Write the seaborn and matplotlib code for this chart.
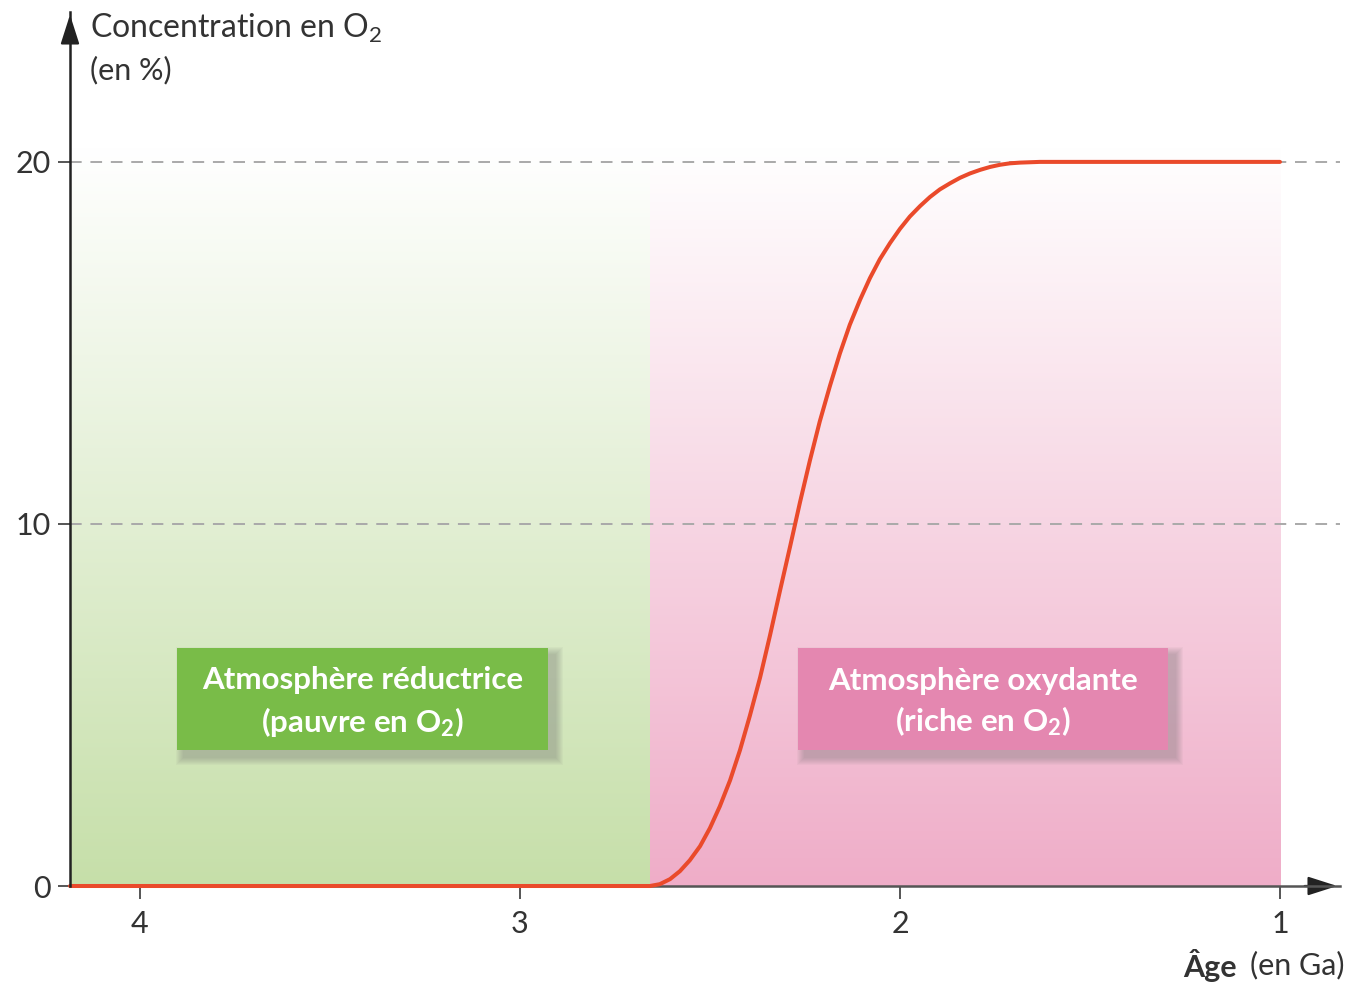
import numpy as np
import pandas as pd
import matplotlib
matplotlib.use("Agg")
import matplotlib.pyplot as plt
import seaborn as sns
from matplotlib.colors import LinearSegmentedColormap
from matplotlib.patches import Rectangle

# O2 concentration in the atmosphere through time (age in Ga, O2 in %)
age_ga = [4.184, 2.658, 2.632, 2.605, 2.579, 2.553, 2.526, 2.500, 2.474, 2.447,
          2.421, 2.395, 2.368, 2.342, 2.316, 2.289, 2.263, 2.237, 2.211, 2.184,
          2.158, 2.132, 2.105, 2.079, 2.053, 2.026, 2.000, 1.974, 1.947, 1.921,
          1.895, 1.868, 1.842, 1.816, 1.789, 1.763, 1.737, 1.711, 1.684, 1.658,
          1.632, 1.000]
o2_percent = [0, 0, 0.05, 0.19, 0.41, 0.71, 1.10, 1.60, 2.20, 2.92,
              3.75, 4.70, 5.76, 6.92, 8.14, 9.38, 10.60, 11.75, 12.83, 13.82,
              14.71, 15.50, 16.19, 16.79, 17.31, 17.76, 18.15, 18.49, 18.78, 19.03,
              19.24, 19.41, 19.56, 19.68, 19.78, 19.86, 19.92, 19.96, 19.98, 19.99,
              20.0, 20.0]

# atmosphere periods: (start, end) in Ga
period_names = ["Atmosphère réductrice\n(pauvre en O$_\\mathbf{2}$)",
                "Atmosphère oxydante\n(riche en O$_\\mathbf{2}$)"]
period_start = [4.184, 2.658]
period_end = [2.658, 1.0]

x_ticks = [4, 3, 2, 1]
y_ticks = [0, 10, 20]

sns.set_theme(style="white")
plt.rcParams["font.family"] = ["Lato", "DejaVu Sans"]
plt.rcParams["mathtext.fontset"] = "custom"
plt.rcParams["mathtext.rm"] = "Lato"
plt.rcParams["mathtext.it"] = "Lato:italic"
plt.rcParams["mathtext.bf"] = "Lato:bold"

W, H = 1350, 991
fig = plt.figure(figsize=(W / 100, H / 100), dpi=100)
fig.patch.set_facecolor("white")
ax = fig.add_axes([70 / W, 105 / H, 1270 / W, 874 / H])
ax.set_facecolor("white")

# gradient backgrounds for the two periods
band_colors = ["#c6dfa9", "#efadc8"]
grad = np.linspace(1, 0, 256).reshape(-1, 1)
for x0, x1, col in zip(period_start, period_end, band_colors):
    cmap = LinearSegmentedColormap.from_list("band", ["#ffffff", col])
    ax.imshow(grad, extent=[x0, x1, 0, 20.4], origin="lower", cmap=cmap,
              vmin=0, vmax=1, aspect="auto", zorder=0, interpolation="bilinear")

# dashed reference lines
for yv in [10, 20]:
    ax.axhline(yv, color="#a9a9a9", lw=1.4, ls=(0, (6, 4.5)), zorder=1)

df = pd.DataFrame({"age": age_ga, "o2": o2_percent})
sns.lineplot(data=df, x="age", y="o2", color="#ea4a2b", lw=2.9, ax=ax,
             zorder=5, clip_on=False, sort=False)

ax.set_xlim(4.184, 0.842)
ax.set_ylim(0, 24.14)
ax.set_xticks(x_ticks)
ax.set_xticklabels([str(v) for v in x_ticks])
ax.set_yticks(y_ticks)
ax.set_yticklabels([str(v) for v in y_ticks])
ax.set_xlabel("")
ax.set_ylabel("")
ax.tick_params(axis="both", direction="out", length=9, width=1.4, color="#555555",
               labelsize=22, labelcolor="#333333")
ax.tick_params(axis="x", pad=8)
ax.tick_params(axis="y", pad=5)
ax.xaxis.set_ticks_position("bottom")
ax.yaxis.set_ticks_position("left")

for s in ["top", "right"]:
    ax.spines[s].set_visible(False)
ax.spines["left"].set_color("#222222")
ax.spines["left"].set_linewidth(1.8)
ax.spines["bottom"].set_color("#555555")
ax.spines["bottom"].set_linewidth(1.8)
ax.spines["left"].set_zorder(6)
ax.spines["bottom"].set_zorder(4)

# arrow heads on the axes
for tip, tail in [((1.0, 0), (0.97, 0)), ((0, 1.0), (0, 0.97))]:
    ax.annotate("", xy=tip, xytext=tail, xycoords="axes fraction",
                arrowprops=dict(arrowstyle="-|>,head_length=1.0,head_width=0.32",
                                color="#222222", lw=1.6, mutation_scale=18),
                annotation_clip=False)


def ax_frac(px, py):
    return (px - 70) / 1270, (886 - py) / 874


# labelled boxes with soft shadows
box_px = [(177, 648, 548, 750), (798, 648, 1168, 750)]
box_colors = ["#79bc48", "#e487b0"]
for (l, t, r, b), col, name in zip(box_px, box_colors, period_names):
    x0, y1 = ax_frac(l, t)
    x1, y0 = ax_frac(r, b)
    w, h = x1 - x0, y1 - y0
    for i in range(8, 0, -1):
        dx, dy = 7 / 1270, -7 / 874
        gx, gy = i / 1270, i / 874
        ax.add_patch(Rectangle((x0 + dx - gx, y0 + dy - gy), w + 2 * gx, h + 2 * gy,
                               transform=ax.transAxes, facecolor="#6e6e6e",
                               edgecolor="none", alpha=0.05, zorder=7))
    ax.add_patch(Rectangle((x0, y0), w, h, transform=ax.transAxes,
                           facecolor=col, edgecolor="none", zorder=8))
    ax.text(x0 + w / 2, y0 + h / 2 - 0.004, name, transform=ax.transAxes,
            ha="center", va="center", color="white", fontsize=22.5,
            fontweight="bold", linespacing=1.38, zorder=9)

# axis titles
fig.text(90 / W, 1 - 28 / H, "Concentration en O$_2$", ha="left", va="center",
         fontsize=23, color="#333333")
fig.text(90 / W, 1 - 70 / H, "(en %)", ha="left", va="center",
         fontsize=22, color="#333333")
fig.text(1183 / W, 1 - 965 / H, "Âge", ha="left", va="center",
         fontsize=22, fontweight="bold", color="#333333")
fig.text(1345 / W, 1 - 965 / H, "(en Ga)", ha="right", va="center",
         fontsize=22, color="#333333")

fig.savefig("out.png", dpi=100, facecolor="white")
